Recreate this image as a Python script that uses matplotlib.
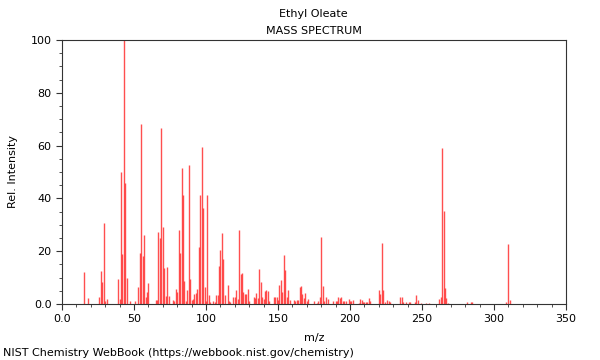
import matplotlib
matplotlib.use("Agg")
import matplotlib.pyplot as plt
from matplotlib.ticker import MultipleLocator, FuncFormatter

# Ethyl oleate EI mass spectrum
mz = [15, 18, 26, 27, 28, 29, 30, 31,
      39, 40, 41, 42, 43, 44, 45, 47,
      51, 53, 54, 55, 56, 57, 58, 59, 60,
      65, 66, 67, 68, 69, 70, 71, 72, 73, 74,
      77, 78, 79, 80, 81, 82, 83, 84, 85, 86, 87, 88, 89, 90,
      91, 92, 93, 94, 95, 96, 97, 98, 99, 100, 101, 102, 103,
      105, 106, 107, 108, 109, 110, 111, 112, 113, 115, 116, 117,
      119, 120, 121, 122, 123, 124, 125, 126, 127, 128, 129, 130,
      133, 134, 135, 136, 137, 138, 139, 140, 141, 142, 143, 144,
      147, 148, 149, 150, 151, 152, 153, 154, 155, 156, 157, 158,
      161, 162, 163, 164, 165, 166, 167, 168, 169, 170, 171,
      175, 177, 178, 179, 180, 181, 182, 183, 185, 188, 190,
      191, 192, 193, 194, 195, 196, 197, 199, 200, 201, 202,
      206, 207, 208, 209, 210, 211, 212, 213, 214,
      220, 221, 222, 223, 224, 226, 227, 228,
      235, 236, 237, 239, 241, 242, 245, 246, 247, 249, 253, 255,
      262, 263, 264, 265, 266, 267, 268,
      281, 284, 285, 308, 310, 311]
intensity = [12.0, 2.3, 2.5, 12.5, 8.5, 30.7, 1.3, 2.0,
             9.5, 2.0, 50.0, 19.0, 100.0, 46.0, 9.7, 1.0,
             1.0, 6.3, 19.4, 68.0, 18.3, 26.0, 2.8, 4.4, 8.0,
             1.5, 1.5, 27.4, 25.0, 66.8, 29.3, 13.8, 3.0, 14.0, 3.0,
             1.5, 1.0, 5.7, 4.7, 28.0, 19.4, 51.6, 41.4, 8.6, 1.0, 5.3, 52.8, 9.6, 1.5,
             2.0, 3.8, 4.0, 5.5, 21.7, 41.4, 59.3, 36.4, 6.3, 1.0, 41.3, 3.4, 0.6,
             1.0, 0.6, 3.4, 3.4, 14.5, 20.6, 27.0, 17.0, 3.5, 7.2, 1.0, 0.6,
             2.8, 2.5, 5.4, 2.0, 28.0, 11.2, 11.9, 4.4, 3.7, 3.8, 5.6, 1.0,
             2.5, 2.3, 4.3, 2.3, 13.3, 8.5, 2.8, 2.0, 5.0, 5.4, 5.0, 1.3,
             2.8, 2.8, 2.8, 1.5, 7.3, 9.1, 4.7, 18.6, 12.9, 2.5, 5.4, 1.5,
             1.6, 1.3, 1.5, 1.5, 6.6, 7.0, 3.8, 2.1, 4.2, 1.0, 2.0,
             1.1, 0.5, 1.0, 2.8, 25.3, 7.0, 1.3, 2.5, 1.8, 1.0, 1.0,
             1.0, 2.5, 2.3, 2.5, 1.0, 1.3, 1.3, 1.8, 1.3, 1.0, 1.5,
             0.5, 1.9, 1.6, 0.9, 0.9, 0.9, 0.6, 2.1, 1.0,
             5.3, 3.7, 23.2, 5.3, 0.9, 1.6, 1.3, 0.6,
             2.5, 2.5, 0.9, 0.9, 0.9, 0.9, 0.6, 3.5, 1.6, 0.5, 0.5, 0.5,
             2.0, 2.8, 59.1, 35.1, 5.9, 2.3, 0.5,
             0.6, 0.9, 0.9, 0.6, 22.7, 1.5]

compound = "Ethyl Oleate"
source = "NIST Chemistry WebBook (https://webbook.nist.gov/chemistry)"

plt.rcParams['font.family'] = 'DejaVu Sans'
plt.rcParams['font.size'] = 8

fig = plt.figure(figsize=(6, 3.6), dpi=100)
ax = fig.add_axes([0.1033, 0.1556, 0.84, 0.7333])

ax.vlines(mz, 0, intensity, color='#ff3030', linewidth=1.0, alpha=0.85)

ax.set_xlim(0, 350)
ax.set_ylim(0, 100)
ax.xaxis.set_major_locator(MultipleLocator(50))
ax.xaxis.set_minor_locator(MultipleLocator(10))
ax.yaxis.set_major_locator(MultipleLocator(20))
ax.yaxis.set_minor_locator(MultipleLocator(5))
ax.xaxis.set_major_formatter(FuncFormatter(lambda v, p: "0.0" if v == 0 else f"{v:.0f}"))
ax.yaxis.set_major_formatter(FuncFormatter(lambda v, p: "0.0" if v == 0 else f"{v:.0f}"))
ax.tick_params(which='major', length=4, width=0.8, color='#333333')
ax.tick_params(which='minor', length=2.5, width=0.6, color='#333333')
for s in ax.spines.values():
    s.set_color('#333333')
    s.set_linewidth(0.8)

ax.set_xlabel("m/z", labelpad=6)
ax.set_ylabel("Rel. Intensity", labelpad=9)

fig.text(0.523, 0.962, compound, ha='center', va='center')
fig.text(0.523, 0.915, "MASS SPECTRUM", ha='center', va='center')
fig.text(0.005, 0.02, source, ha='left', va='center')

fig.savefig("out.png", dpi=100)
